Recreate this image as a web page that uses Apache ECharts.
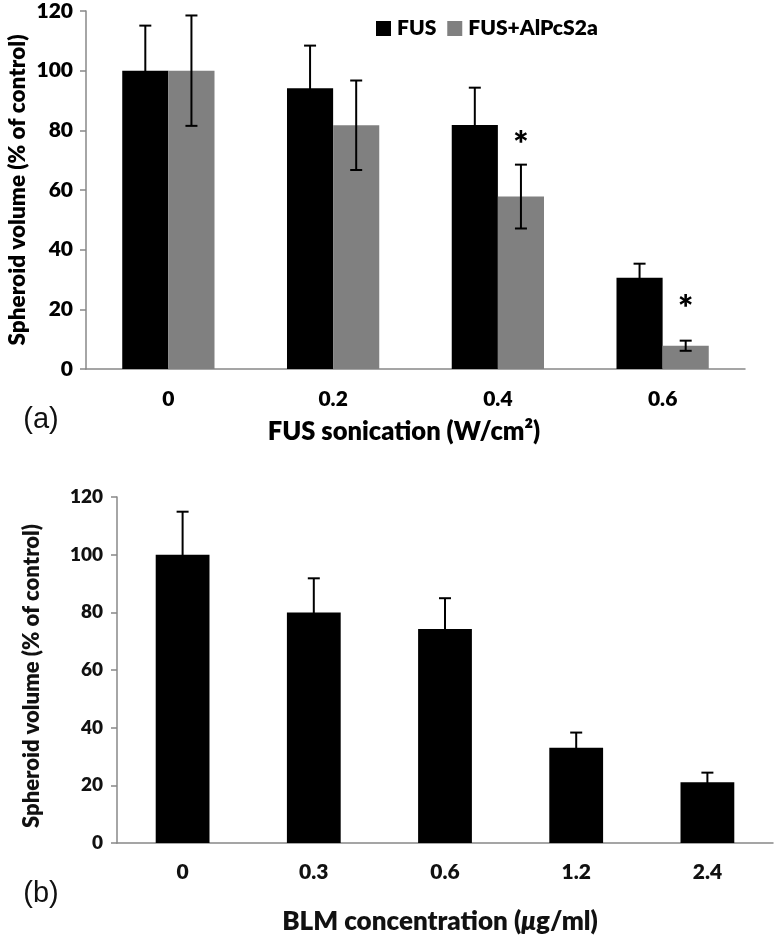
<!DOCTYPE html>
<html>
<head>
<meta charset="utf-8">
<script src="https://cdn.jsdelivr.net/npm/echarts@6/dist/echarts.min.js"></script>
<style>
html,body{margin:0;padding:0;background:#fff;}
#chart{width:780px;height:939px;}
</style>
</head>
<body>
<div id="chart"></div>
<script>
// ---- Data ----
const catsA = ['0', '0.2', '0.4', '0.6'];
const fusMean = [100, 94.1, 81.8, 30.6];
const fusErr = [15.1, 14.3, 12.5, 4.7];
const fusDyeMean = [100, 81.7, 57.8, 7.8];
const fusDyeErr = [18.5, 15.0, 10.7, 1.7];
const starA = [null, null, 77.5, 22.6];
const yTicks = [0, 20, 40, 60, 80, 100, 120];

const catsB = ['0', '0.3', '0.6', '1.2', '2.4'];
const blmMean = [100, 79.9, 74.2, 33.0, 21.1];
const blmErr = [14.9, 11.9, 10.7, 5.3, 3.3];

const FONT = 'Lato';
const W = 800;
const chart = echarts.init(document.getElementById('chart'));

function errRender(offsetFrac, capHalf) {
  return function (params, api) {
    const i = api.value(0), m = api.value(1), e = api.value(2);
    const band = api.size([1, 0])[0];
    const cx = api.coord([i, m])[0] + offsetFrac * band;
    const yt = api.coord([i, m + e])[1];
    const yb = api.coord([i, m - e])[1];
    const st = { stroke: '#000', lineWidth: 2 };
    return {
      type: 'group',
      children: [
        { type: 'line', shape: { x1: cx, y1: yt, x2: cx, y2: yb }, style: st },
        { type: 'line', shape: { x1: cx - capHalf, y1: yt, x2: cx + capHalf, y2: yt }, style: st },
        { type: 'line', shape: { x1: cx - capHalf, y1: yb, x2: cx + capHalf, y2: yb }, style: st }
      ]
    };
  };
}

function starRender(offsetFrac) {
  return function (params, api) {
    const i = api.value(0), v = api.value(1);
    const band = api.size([1, 0])[0];
    const p = api.coord([i, v]);
    return {
      type: 'text',
      x: p[0] + offsetFrac * band,
      y: p[1] + 8,
      style: { text: '*', fontFamily: FONT, fontWeight: W, fontSize: 36, fill: '#000', align: 'center', verticalAlign: 'middle' }
    };
  };
}

const axisLineStyle = { lineStyle: { color: '#888', width: 1.5 } };
const axisTickStyle = { lineStyle: { color: '#888', width: 1.5 }, length: 6 };

const option = {
  animation: false,
  backgroundColor: '#fff',
  legend: {
    left: 371, top: 13,
    itemWidth: 15, itemHeight: 15, itemGap: 11,
    icon: 'rect',
    textStyle: { fontFamily: FONT, fontWeight: W, fontSize: 21, color: '#000', padding: [0, 0, 0, 1] },
    data: ['FUS', 'FUS+AlPcS2a']
  },
  grid: [
    { left: 86, top: 11, width: 659, height: 358 },
    { left: 117, top: 497, width: 656, height: 346 }
  ],
  xAxis: [
    {
      gridIndex: 0, type: 'category', data: catsA,
      axisLine: axisLineStyle, axisTick: axisTickStyle,
      axisLabel: { fontFamily: FONT, fontWeight: W, fontSize: 21, color: '#000', margin: 20 }
    },
    {
      gridIndex: 1, type: 'category', data: catsB,
      axisLine: axisLineStyle, axisTick: axisTickStyle,
      axisLabel: { fontFamily: FONT, fontWeight: W, fontSize: 21, color: '#111', margin: 19 }
    }
  ],
  yAxis: [
    {
      gridIndex: 0, type: 'value', min: yTicks[0], max: yTicks[yTicks.length - 1], interval: 20,
      splitLine: { show: false },
      axisLine: { show: true, lineStyle: { color: '#888', width: 1.5 } },
      axisTick: { show: true, length: 6, lineStyle: { color: '#888', width: 1.5 } },
      axisLabel: { fontFamily: FONT, fontWeight: W, fontSize: 21, color: '#000', margin: 13 }
    },
    {
      gridIndex: 1, type: 'value', min: yTicks[0], max: yTicks[yTicks.length - 1], interval: 20,
      splitLine: { show: false },
      axisLine: { show: true, lineStyle: { color: '#888', width: 1.5 } },
      axisTick: { show: true, length: 6, lineStyle: { color: '#888', width: 1.5 } },
      axisLabel: { fontFamily: FONT, fontWeight: W, fontSize: 19, color: '#111', margin: 14 }
    }
  ],
  series: [
    {
      name: 'FUS', type: 'bar', xAxisIndex: 0, yAxisIndex: 0,
      data: fusMean, barWidth: '28%', barGap: '0%',
      itemStyle: { color: '#000' }
    },
    {
      name: 'FUS+AlPcS2a', type: 'bar', xAxisIndex: 0, yAxisIndex: 0,
      data: fusDyeMean, barWidth: '28%', barGap: '0%',
      itemStyle: { color: '#808080' }
    },
    {
      type: 'custom', xAxisIndex: 0, yAxisIndex: 0, z: 5, silent: true,
      renderItem: errRender(-0.14, 6),
      data: fusMean.map((m, i) => [i, m, fusErr[i]])
    },
    {
      type: 'custom', xAxisIndex: 0, yAxisIndex: 0, z: 5, silent: true,
      renderItem: errRender(0.14, 6),
      data: fusDyeMean.map((m, i) => [i, m, fusDyeErr[i]])
    },
    {
      type: 'custom', xAxisIndex: 0, yAxisIndex: 0, z: 5, silent: true,
      renderItem: starRender(0.14),
      data: starA.map((v, i) => v == null ? null : [i, v]).filter(d => d)
    },
    {
      name: 'BLM', type: 'bar', xAxisIndex: 1, yAxisIndex: 1,
      data: blmMean, barWidth: '41%',
      itemStyle: { color: '#000' }
    },
    {
      type: 'custom', xAxisIndex: 1, yAxisIndex: 1, z: 5, silent: true,
      renderItem: errRender(0, 6),
      data: blmMean.map((m, i) => [i, m, blmErr[i]])
    }
  ],
  graphic: [
    {
      type: 'text', x: 18, y: 190, rotation: Math.PI / 2,
      style: { text: 'Spheroid volume (% of control)', fontFamily: FONT, fontWeight: W, fontSize: 22.5, fill: '#000', align: 'center', verticalAlign: 'middle' }
    },
    {
      type: 'text', x: 32, y: 676, rotation: Math.PI / 2,
      style: { text: 'Spheroid volume (% of control)', fontFamily: FONT, fontWeight: W, fontSize: 22, fill: '#111', align: 'center', verticalAlign: 'middle' }
    },
    {
      type: 'text', x: 404, y: 432,
      style: { text: 'FUS sonication (W/cm²)', fontFamily: FONT, fontWeight: W, fontSize: 25.5, fill: '#000', align: 'center', verticalAlign: 'middle' }
    },
    {
      type: 'text', x: 440, y: 922,
      style: {
        text: '{n|BLM concentration (}{i|μ}{n|g/ml)}',
        align: 'center', verticalAlign: 'middle',
        rich: {
          n: { fontFamily: FONT, fontWeight: W, fontSize: 26, fill: '#111', color: '#111' },
          i: { fontFamily: FONT, fontWeight: W, fontStyle: 'italic', fontSize: 26, fill: '#111', color: '#111' }
        }
      }
    },
    {
      type: 'text', x: 41, y: 420,
      style: { text: '(a)', fontFamily: 'Liberation Sans', fontSize: 29, fill: '#111', align: 'center', verticalAlign: 'middle' }
    },
    {
      type: 'text', x: 41, y: 894,
      style: { text: '(b)', fontFamily: 'Liberation Sans', fontSize: 29, fill: '#111', align: 'center', verticalAlign: 'middle' }
    }
  ]
};
chart.setOption(option);
</script>
</body>
</html>
